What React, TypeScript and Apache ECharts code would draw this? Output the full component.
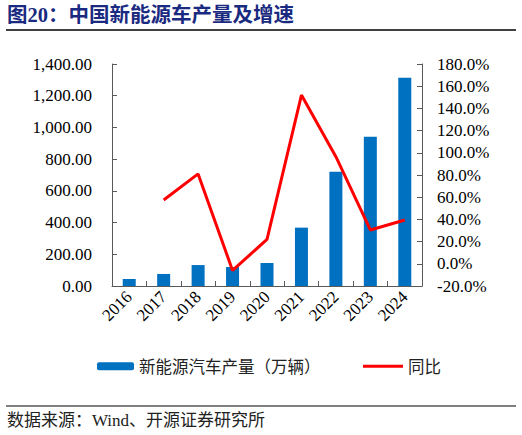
import { useEffect, useRef } from "react";
import * as echarts from "echarts";

const years = ["2016", "2017", "2018", "2019", "2020", "2021", "2022", "2023", "2024"];
const output = [44, 76, 132, 120, 145, 368, 720, 941, 1313];
const growth: (number | string)[] = ["-", 57.5, 81, -6, 22, 152, 96.5, 30.5, 39.5];

const titleText = "图20：中国新能源车产量及增速";
const sourceText = "数据来源：Wind、开源证券研究所";
const barName = "新能源汽车产量（万辆）";
const lineName = "同比";

const serif = "'Liberation Serif', 'Times New Roman', serif";
const mixed = "'Liberation Serif', 'Noto Sans CJK SC', sans-serif";
const cjk = "'Noto Sans CJK SC', sans-serif";

export default function App() {
  const chartRef = useRef<HTMLDivElement>(null);

  useEffect(() => {
    if (!chartRef.current) return;
    const chart = echarts.init(chartRef.current, null, { renderer: "svg" });

    const axisLine = { show: true, lineStyle: { color: "#595959", width: 1 } };
    const axisTick = { show: true, inside: true, length: 5, lineStyle: { color: "#595959" } };

    const option: echarts.EChartsOption = {
      animation: false,
      grid: { left: 112, right: 100, top: 64, bottom: 149 },
      graphic: [
        {
          type: "text",
          left: 7,
          top: 5,
          style: { text: titleText, fill: "#1a2a80", font: `bold 20.5px ${mixed}` },
        },
        {
          type: "line",
          shape: { x1: 6, y1: 30, x2: 516, y2: 30 },
          style: { stroke: "#000", lineWidth: 1.5 },
        },
        {
          type: "line",
          shape: { x1: 6, y1: 406, x2: 516, y2: 406 },
          style: { stroke: "#808080", lineWidth: 2 },
        },
        {
          type: "text",
          left: 7,
          top: 412,
          style: { text: sourceText, fill: "#222", font: `17px ${mixed}` },
        },
      ],
      legend: [
        {
          data: [barName],
          left: 92,
          top: 353,
          itemWidth: 37,
          itemHeight: 8,
          itemGap: 6,
          textStyle: { fontFamily: cjk, fontSize: 16.5, color: "#222" },
        },
        {
          data: [{ name: lineName, icon: "rect", itemStyle: { color: "#FF0000" } }],
          left: 358,
          top: 353,
          itemWidth: 40,
          itemHeight: 3,
          textStyle: { fontFamily: cjk, fontSize: 16.5, color: "#222" },
        },
      ],
      xAxis: {
        type: "category",
        data: years,
        axisLine,
        axisTick,
        axisLabel: { rotate: 45, fontFamily: serif, fontSize: 17, color: "#000", margin: 8 },
      },
      yAxis: [
        {
          type: "value",
          min: 0,
          max: 1400,
          interval: 200,
          axisLine,
          axisTick,
          splitLine: { show: false },
          axisLabel: {
            fontFamily: serif,
            fontSize: 17,
            color: "#000",
            margin: 20,
            formatter: (v: number) =>
              v.toLocaleString("en-US", { minimumFractionDigits: 2, maximumFractionDigits: 2 }),
          },
        },
        {
          type: "value",
          min: -20,
          max: 180,
          interval: 20,
          position: "right",
          axisLine,
          axisTick,
          splitLine: { show: false },
          axisLabel: {
            fontFamily: serif,
            fontSize: 17,
            color: "#000",
            margin: 15,
            formatter: (v: number) => v.toFixed(1) + "%",
          },
        },
      ],
      series: [
        {
          name: barName,
          type: "bar",
          data: output,
          barWidth: 13,
          itemStyle: { color: "#0070C0" },
        },
        {
          name: lineName,
          type: "line",
          yAxisIndex: 1,
          data: growth,
          symbol: "none",
          lineStyle: { color: "#FF0000", width: 3 },
          itemStyle: { color: "#FF0000" },
        },
      ],
    };

    chart.setOption(option);
    return () => chart.dispose();
  }, []);

  return (
    <div
      ref={chartRef}
      style={{ position: "fixed", left: 0, top: 0, width: 522, height: 435, background: "#fff" }}
    />
  );
}
